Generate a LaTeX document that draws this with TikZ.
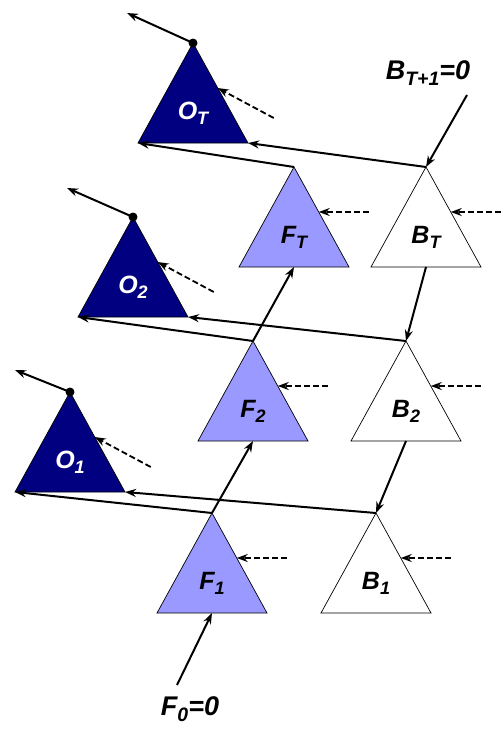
\documentclass[tikz,border=0pt]{standalone}
\usepackage{fontspec}
\setmainfont{Liberation Sans}
\usetikzlibrary{shapes.geometric, arrows.meta, positioning, calc}
\definecolor{outcolor}{RGB}{0,0,128}
\definecolor{fwdcolor}{RGB}{153,153,255}
\newcommand{\lsub}[1]{\raisebox{-0.45ex}{\scalebox{0.72}{#1}}}

\begin{document}
\begin{tikzpicture}[x=1pt, y=-1pt,
    tri/.style={isosceles triangle, isosceles triangle stretches, shape border rotate=90, draw, line width=0.7pt, minimum width=110pt, minimum height=100pt, inner sep=0pt, outer sep=0pt, anchor=apex},
    otri/.style={tri, fill=outcolor},
    ftri/.style={tri, fill=fwdcolor},
    btri/.style={tri, fill=white},
    lab/.style={font=\fontsize{25}{28}\selectfont\bfseries\itshape, anchor=base, inner sep=0pt},
    biglab/.style={font=\fontsize{27}{30}\selectfont\bfseries\itshape, anchor=base, inner sep=0pt},
    link/.style={line width=2pt, -{Stealth[length=11pt, width=8pt]}},
    feed/.style={line width=1.8pt, dash pattern=on 6pt off 3pt, -{Stealth[length=11pt, width=8pt]}},
    dot/.style={circle, fill, inner sep=0pt, minimum size=9pt}
]
    \useasboundingbox (0,0) rectangle (501,729);

    % Output triangles
    \node[otri] (OT) at (193, 43) {};
    \node[otri] (O2) at (133, 217) {};
    \node[otri] (O1) at (70, 392) {};
    \node[lab, text=white] at ($(OT.apex)+(0,76)$) {O\lsub{T}};
    \node[lab, text=white] at ($(O2.apex)+(0,76)$) {O\lsub{2}};
    \node[lab, text=white] at ($(O1.apex)+(0,76)$) {O\lsub{1}};

    % Forward triangles
    \node[ftri] (FT) at (294, 167) {};
    \node[ftri] (F2) at (253, 341) {};
    \node[ftri] (F1) at (212, 513) {};
    \node[lab] at ($(FT.apex)+(0,76)$) {F\lsub{T}};
    \node[lab] at ($(F2.apex)+(0,76)$) {F\lsub{2}};
    \node[lab] at ($(F1.apex)+(0,76)$) {F\lsub{1}};

    % Backward triangles
    \node[btri] (BT) at (426, 167) {};
    \node[btri] (B2) at (406, 341) {};
    \node[btri] (B1) at (376, 513) {};
    \node[lab] at ($(BT.apex)+(0,76)$) {B\lsub{T}};
    \node[lab] at ($(B2.apex)+(0,76)$) {B\lsub{2}};
    \node[lab] at ($(B1.apex)+(0,76)$) {B\lsub{1}};

    % Boundary values
    \node[biglab] (Bend) at (428, 79) {B\lsub{T+1}=0};
    \node[biglab] (Fstart) at (190, 715) {F\lsub{0}=0};
    \coordinate (Bendtail) at (467, 95);
    \coordinate (Fstarttail) at (177, 685);
    \draw[link] (Bendtail) -- (BT.apex);
    \draw[link] (Fstarttail) -- (F1.lower side);

    % Chains
    \draw[link] (F1.apex) -- (F2.lower side);
    \draw[link] (F2.apex) -- (FT.lower side);
    \draw[link] (BT.lower side) -- (B2.apex);
    \draw[link] (B2.lower side) -- (B1.apex);

    % Into the outputs
    \draw[link] (FT.apex) -- (OT.left corner);
    \draw[link] (BT.apex) -- (OT.right corner);
    \draw[link] (F2.apex) -- (O2.left corner);
    \draw[link] (B2.apex) -- (O2.right corner);
    \draw[link] (F1.apex) -- (O1.left corner);
    \draw[link] (B1.apex) -- (O1.right corner);

    % Outputs leaving
    \node[dot] (OTd) at (OT.apex) {};
    \node[dot] (O2d) at (O2.apex) {};
    \node[dot] (O1d) at (O1.apex) {};
    \coordinate (OTout) at (127, 13);
    \coordinate (O2out) at (67, 188);
    \coordinate (O1out) at (15, 370);
    \draw[link] (OTd.center) -- (OTout);
    \draw[link] (O2d.center) -- (O2out);
    \draw[link] (O1d.center) -- (O1out);

    % Dashed inputs
    \coordinate (OTin) at ($(OT.apex)!0.45!(OT.right corner)$);
    \coordinate (O2in) at ($(O2.apex)!0.45!(O2.right corner)$);
    \coordinate (O1in) at ($(O1.apex)!0.45!(O1.right corner)$);
    \coordinate (FTin) at ($(FT.apex)!0.45!(FT.right corner)$);
    \coordinate (F2in) at ($(F2.apex)!0.45!(F2.right corner)$);
    \coordinate (F1in) at ($(F1.apex)!0.45!(F1.right corner)$);
    \coordinate (BTin) at ($(BT.apex)!0.45!(BT.right corner)$);
    \coordinate (B2in) at ($(B2.apex)!0.45!(B2.right corner)$);
    \coordinate (B1in) at ($(B1.apex)!0.45!(B1.right corner)$);
    \coordinate (OTfeed) at ($(OTin)+(56,30)$);
    \coordinate (O2feed) at ($(O2in)+(56,30)$);
    \coordinate (O1feed) at ($(O1in)+(56,30)$);
    \coordinate (FTfeed) at ($(FTin)+(50,0)$);
    \coordinate (F2feed) at ($(F2in)+(50,0)$);
    \coordinate (F1feed) at ($(F1in)+(50,0)$);
    \coordinate (BTfeed) at ($(BTin)+(50,0)$);
    \coordinate (B2feed) at ($(B2in)+(50,0)$);
    \coordinate (B1feed) at ($(B1in)+(50,0)$);
    \draw[feed] (OTfeed) -- (OTin);
    \draw[feed] (O2feed) -- (O2in);
    \draw[feed] (O1feed) -- (O1in);
    \draw[feed] (FTfeed) -- (FTin);
    \draw[feed] (F2feed) -- (F2in);
    \draw[feed] (F1feed) -- (F1in);
    \draw[feed] (BTfeed) -- (BTin);
    \draw[feed] (B2feed) -- (B2in);
    \draw[feed] (B1feed) -- (B1in);
\end{tikzpicture}
\end{document}
